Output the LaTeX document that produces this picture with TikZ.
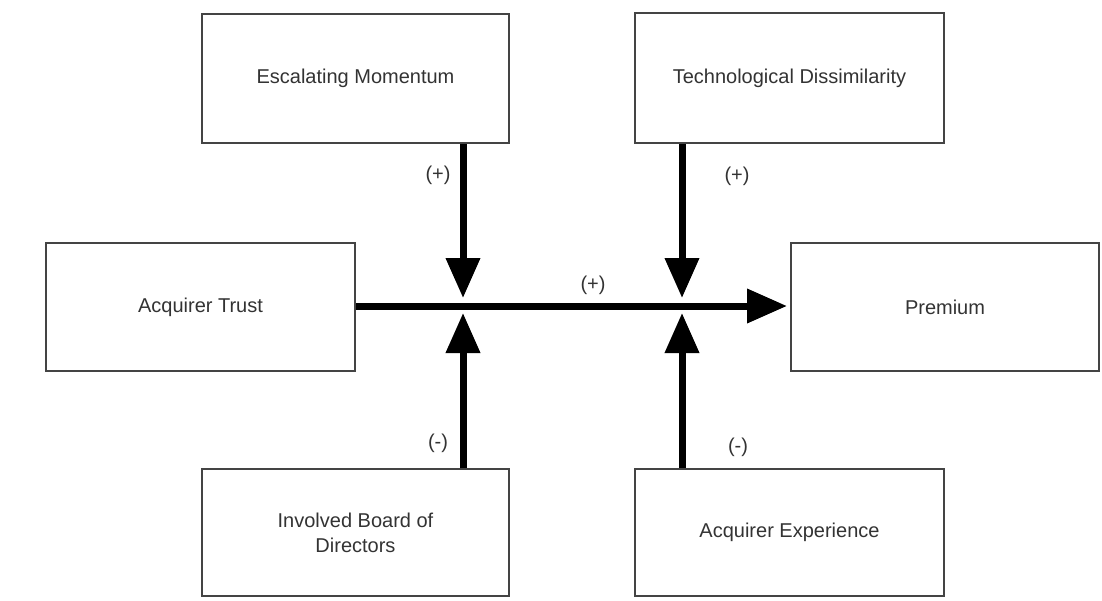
\documentclass[tikz,border=0pt]{standalone}
\usepackage{fontspec}
\setmainfont{Liberation Sans}
\usetikzlibrary{arrows.meta}
\definecolor{txt}{HTML}{333333}
\definecolor{bord}{HTML}{444444}
\tikzset{
  box/.style={draw=bord, line width=2pt, fill=white, rectangle, inner sep=0pt,
    text=txt, align=center, font=\fontsize{20}{25}\selectfont},
  conn/.style={line width=7pt, black, -{Triangle[width=33pt,length=40pt]}},
  lbl/.style={text=txt, font=\fontsize{20}{24}\selectfont, inner sep=0pt}
}
\begin{document}
\begin{tikzpicture}[x=1pt,y=-1pt]
\useasboundingbox (0,0) rectangle (1102,600);
\fill[white] (0,0) rectangle (1102,600);
\node[box, minimum width=307pt, minimum height=129pt] (em) at (355.5,78.5) {Escalating Momentum};
\node[box, minimum width=309pt, minimum height=130pt] (td) at (789.5,78) {Technological Dissimilarity};
\node[box, minimum width=309pt, minimum height=128pt] (at) at (200.5,307) {Acquirer Trust};
\node[box, minimum width=308pt, minimum height=128pt] (pr) at (945,307) {Premium};
\node[box, minimum width=307pt, minimum height=127pt] (ib) at (355.5,532.5) {Involved Board of\\Directors};
\node[box, minimum width=309pt, minimum height=127pt] (ae) at (789.5,532.5) {Acquirer Experience};
\coordinate (j1) at (463,306);
\coordinate (j2) at (682,306);
\draw[conn, shorten >=3pt] (at.east |- j1) -- (pr.west |- j1);
\draw[conn, shorten >=8pt] (j1 |- em.south) -- (j1);
\draw[conn, shorten >=8pt] (j2 |- td.south) -- (j2);
\draw[conn, shorten >=7pt] (j1 |- ib.north) -- (j1);
\draw[conn, shorten >=7pt] (j2 |- ae.north) -- (j2);
\node[lbl] (l1) at (438,175) {(+)};
\node[lbl] (l2) at (737,176) {(+)};
\node[lbl] (l3) at (593,285) {(+)};
\node[lbl] (l4) at (438,443) {(-)};
\node[lbl] (l5) at (738,447) {(-)};
\end{tikzpicture}
\end{document}
